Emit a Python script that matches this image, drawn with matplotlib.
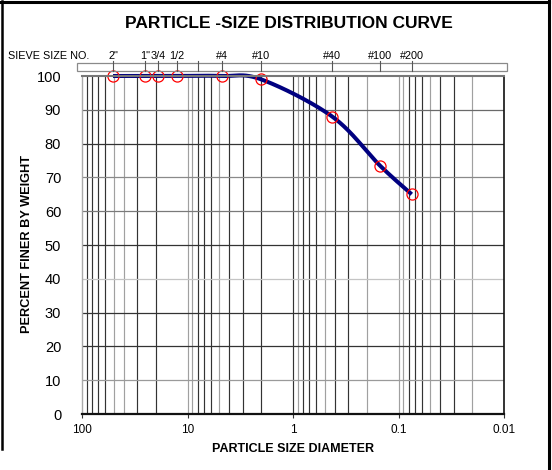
import numpy as np
import matplotlib
matplotlib.use('Agg')
import matplotlib.pyplot as plt
from matplotlib.transforms import blended_transform_factory
from matplotlib.lines import Line2D
from matplotlib.patches import Rectangle

plt.rcParams['font.family'] = ['Liberation Sans', 'DejaVu Sans']

# ---------------- data ----------------
sieve_labels = ['2"', '1"', '3/4', '1/2', '', '#4', '#10', '#40', '#100', '#200']
sieve_sizes = [50.8, 25.4, 19.05, 12.7, 8.0, 4.75, 2.0, 0.425, 0.15, 0.075]
sample_sizes = [50.8, 25.4, 19.05, 12.7, 4.75, 2.0, 0.425, 0.15, 0.075]
percent_finer = [100, 100, 100, 100, 100, 99, 88, 73.5, 65]
x_ticks = [100, 10, 1, 0.1, 0.01]
x_tick_labels = ['100', '10', '1', '0.1', '0.01']
y_ticks = [0, 10, 20, 30, 40, 50, 60, 70, 80, 90, 100]

W, H = 552, 470
fig = plt.figure(figsize=(W / 100, H / 100), dpi=100)
fig.patch.set_facecolor('white')

def fx(px):
    return px / W

def fy(py):
    return 1 - py / H

ax_l, ax_r, ax_t, ax_b = 82, 504, 76, 414
ax = fig.add_axes([fx(ax_l), fy(ax_b), (ax_r - ax_l) / W, (ax_b - ax_t) / H])
ax.set_xscale('log')
ax.set_xlim(100, 0.01)
ax.set_ylim(0, 100)

# ---------------- grid ----------------
light_v = {50, 40, 10, 9, 5, 0.9, 0.5, 0.2, 0.1, 0.09, 0.05, 0.02}
for dec in [10, 1, 0.1, 0.01]:
    for m in range(1, 10):
        v = round(m * dec, 6)
        if v >= 100 or v <= 0.01:
            continue
        col = '#a0a0a0' if v in light_v else '#333333'
        ax.axvline(v, color=col, lw=0.85, zorder=1)
light_h = {10: '#9a9a9a', 40: '#c4c4c4', 60: '#7a7a7a', 70: '#8a8a8a', 90: '#6a6a6a'}
for yv in range(10, 100, 10):
    ax.axhline(yv, color=light_h.get(yv, '#333333'), lw=0.9, zorder=1)

# ---------------- smooth curve (Excel-like Catmull-Rom in display space) ----------------
fig.canvas.draw()
pts = ax.transData.transform(np.column_stack([sample_sizes, percent_finer]))
n = len(pts)
curve = []
for i in range(n - 1):
    p0 = pts[max(i - 1, 0)]
    p1 = pts[i]
    p2 = pts[i + 1]
    p3 = pts[min(i + 2, n - 1)]
    c1 = p1 + (p2 - p0) / 6.0
    c2 = p2 - (p3 - p1) / 6.0
    t = np.linspace(0, 1, 40)[:, None]
    seg = ((1 - t) ** 3) * p1 + 3 * ((1 - t) ** 2) * t * c1 + 3 * (1 - t) * t ** 2 * c2 + t ** 3 * p2
    curve.append(seg if i == 0 else seg[1:])
curve = np.vstack(curve)
curve_data = ax.transData.inverted().transform(curve)
ax.plot(curve_data[:, 0], curve_data[:, 1], color='#000080', lw=2.9, zorder=3,
        solid_capstyle='butt', clip_on=False)
ax.plot(sample_sizes, percent_finer, linestyle='none', marker='o', ms=8,
        mfc='none', mec='#ff0000', mew=0.9, zorder=4, clip_on=False)

# ---------------- axes styling ----------------
ax.set_xticks(x_ticks)
ax.set_xticklabels(x_tick_labels, fontsize=8.5)
ax.xaxis.set_minor_locator(matplotlib.ticker.NullLocator())
ax.tick_params(axis='x', which='major', length=3, width=0.8, color='#333333', pad=4)
ax.set_yticks(y_ticks)
ax.set_yticklabels([str(v) for v in y_ticks], fontsize=10.5)
ax.tick_params(axis='y', length=0, pad=15)
ax.spines['bottom'].set_color('#111111')
ax.spines['bottom'].set_linewidth(1.6)
ax.spines['right'].set_color('#111111')
ax.spines['right'].set_linewidth(1.2)
ax.spines['top'].set_color('#777777')
ax.spines['top'].set_linewidth(1.5)
ax.spines['left'].set_color('#aaaaaa')
ax.spines['left'].set_linewidth(1.0)
for s in ax.spines.values():
    s.set_zorder(5)

ax.set_xlabel('PARTICLE SIZE DIAMETER', fontsize=9, fontweight='bold', labelpad=5)
fig.text(fx(27), fy(244), 'PERCENT FINER BY WEIGHT', rotation=90, fontsize=9.2,
         fontweight='bold', ha='center', va='center')

# ---------------- title ----------------
fig.text(fx(289), fy(24), 'PARTICLE -SIZE DISTRIBUTION CURVE', fontsize=12.5,
         fontweight='bold', ha='center', va='center')

# ---------------- sieve box ----------------
fig.add_artist(Rectangle((fx(77), fy(71)), (507 - 77) / W, 8 / H, transform=fig.transFigure,
                         fill=False, edgecolor='#8a8a8a', lw=0.9))
btrans = blended_transform_factory(ax.transData, fig.transFigure)
for s, lab in zip(sieve_sizes, sieve_labels):
    fig.add_artist(Line2D([s, s], [fy(61), fy(71)], transform=btrans, color='#555555', lw=0.8))
    if lab:
        fig.text(s, fy(59), lab, transform=btrans, fontsize=7.8, ha='center', va='baseline')
fig.text(fx(8), fy(59), 'SIEVE SIZE NO.', fontsize=7.8, ha='left', va='baseline')

# ---------------- outer frame ----------------
fig.add_artist(Line2D([fx(1), fx(549)], [fy(1.5), fy(1.5)], transform=fig.transFigure,
                      color='black', lw=2.2))
fig.add_artist(Line2D([fx(1.5), fx(1.5)], [fy(1), fy(449)], transform=fig.transFigure,
                      color='black', lw=1.8))
fig.add_artist(Line2D([fx(549), fx(549)], [fy(1), fy(470)], transform=fig.transFigure,
                      color='black', lw=2.2))

fig.savefig('out.png', dpi=100, facecolor='white')
